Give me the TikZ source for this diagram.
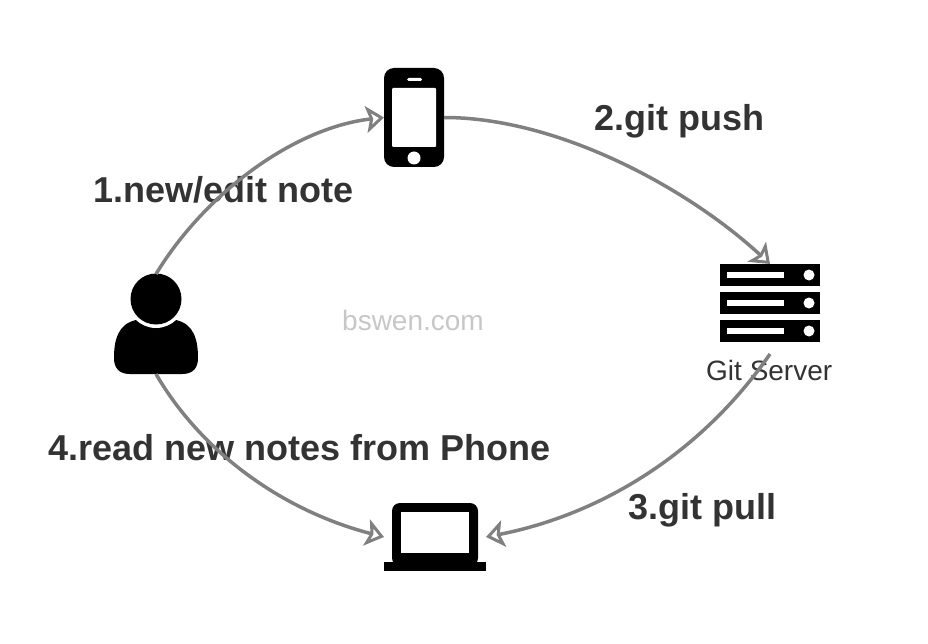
\documentclass[tikz,border=0pt]{standalone}
\usepackage{xcolor}
\usepackage{fontspec}
\setmainfont{Liberation Sans}
\usetikzlibrary{arrows.meta}
\definecolor{labelgray}{HTML}{333333}
\definecolor{flowgray}{HTML}{808080}
\tikzset{
  steplabel/.style={anchor=base west, inner sep=0pt, text=labelgray,
                    font=\fontsize{36}{40}\selectfont\bfseries},
  iconbox/.style={inner sep=0pt, outer sep=0pt},
  flow/.style={draw=flowgray, line width=3.5pt,
               -{Stealth[open, length=18pt, width=27pt, inset=4pt, line width=3pt]}},
}
\begin{document}
\begin{tikzpicture}[x=1pt, y=-1pt]
\useasboundingbox (0,0) rectangle (928,644);
% ---- icon holders ----
\node[iconbox, minimum width=60pt, minimum height=99pt] (phone) at (414,117.5) {};
\node[iconbox, minimum width=100pt, minimum height=78pt] (server) at (770,303) {};
\node[iconbox, minimum width=84pt, minimum height=100pt] (person) at (156,324) {};
\node[iconbox, minimum width=102pt, minimum height=68pt] (laptop) at (435,537) {};
\coordinate (serverout) at (770,354);
% ---- phone ----
\fill[black, rounded corners=10pt] (384,68) rectangle (444,167);
\fill[white, rounded corners=1pt] (392,88) rectangle (436,147);
\fill[white, rounded corners=1.5pt] (407,78) rectangle (422,81);
\fill[white] (414,158) circle (6.5);
% ---- server ----
\foreach \y in {264,292,320} {
  \fill[black] (720,\y) rectangle (820,\y+22);
  \fill[white] (727,\y+8) rectangle (784,\y+14);
  \fill[white] (809,\y+11) circle (5.5);
}
% ---- person ----
\fill[black] (130,374) .. controls (119,374) and (114,368) .. (114,358)
  .. controls (114,340) and (118,324) .. (136,320) -- (176,320)
  .. controls (194,324) and (198,340) .. (198,358)
  .. controls (198,368) and (193,374) .. (182,374) -- cycle;
\fill[white] (156,299) circle (29);
\fill[black] (156,299) circle (25.5);
% ---- laptop ----
\fill[black, rounded corners=8pt] (392,503) rectangle (478,566);
\fill[white] (401,512) rectangle (469,553);
\fill[black] (384,562) rectangle (486,571);
% ---- labels ----
\node[steplabel] (newnote) at (93,203) {1.new/edit note};
\node[steplabel] (gitpush) at (594,131) {2.git push};
\node[steplabel] (gitpull) at (628,519) {3.git pull};
\node[steplabel] (readnote) at (48,460) {4.read new notes from Phone};
\node[anchor=base west, inner sep=0pt, text=labelgray, font=\fontsize{28}{32}\selectfont]
  (servername) at (706,380) {Git Server};
\node[anchor=base west, inner sep=0pt, text=black!22, font=\fontsize{28}{32}\selectfont]
  (watermark) at (342,330) {bswen.com};
% ---- arrows ----
\draw[flow] (person.north) .. controls +(50,-82) and +(-89,10) .. (phone.west);
\draw[flow] (phone.east) .. controls +(116,0) and +(-80,-74) .. (server.north);
\draw[flow] (serverout) .. controls +(-70,101) and +(113,-22) .. (laptop.east);
\draw[flow] (person.south) .. controls +(44,76) and +(-104,-27) .. (laptop.west);
\end{tikzpicture}
\end{document}
